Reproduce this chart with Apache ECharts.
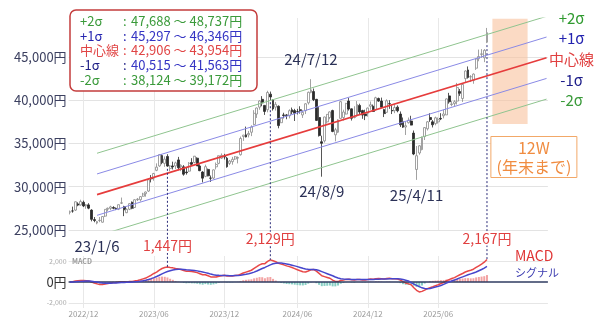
<!DOCTYPE html>
<html>
<head>
<meta charset="utf-8">
<script src="https://cdn.jsdelivr.net/npm/echarts@6/dist/echarts.min.js"></script>
<style>html,body{margin:0;padding:0;background:#fff}#c{width:600px;height:325px}</style>
</head>
<body>
<div id="c"></div>
<script>
// ---------------- DATA ----------------
const startWeek = '2022-10-28';   // Friday of first weekly candle
const futureWeeks = 22;           // empty weeks on the right of the axis
// weekly candles [open, close, low, high]
const candles = [
[27050,27105,26800,27250],[27200,27199,27000,27700],[27300,28263,27200,28300],[28000,27899,27750,28200],[27900,28283,27800,28500],
[28200,27777,27650,28400],[27800,27901,27450,28000],[27900,27527,27400,28100],[27300,26235,26000,27400],[26200,26094,25900,26500],
[25800,25973,25660,26050],[26100,26119,25900,26500],[25900,26553,25850,26600],[26600,27382,26500,27400],[27400,27509,27150,27600],
[27500,27670,27300,27800],[27600,27513,27400,27750],[27500,27453,27300,27600],[27400,27927,27300,27950],[28100,28143,28000,28750],
[27700,27333,26600,27800],[27000,27385,26950,27500],[27400,28041,27300,28100],[28200,27518,27400,28300],[27600,28493,27550,28550],
[28500,28564,28350,28700],[28500,28856,28300,28900],[28900,29157,28850,29300],[29200,29388,28850,29450],[29500,30808,29400,30900],
[31000,30916,30500,31350],[31000,31524,30700,31600],[31900,32265,31800,32700],[32400,33706,32300,33770],[33600,32782,32600,33750],
[32700,33189,32300,33500],[33500,32388,32300,33760],[32100,32391,31800,32500],[32400,32304,32000,32900],[32400,32759,32050,32900],
[33100,32193,31900,33450],[32300,32473,31800,32600],[32300,31450,31275,32500],[31700,31624,31400,32200],[31800,32710,31700,32850],
[32800,32606,32400,33300],[32800,33533,32700,33550],[33300,32402,32400,33400],[32400,31857,31800,32600],[31700,30994,30500,31800],
[31200,32315,31100,32550],[32000,31259,31200,32100],[31000,30991,30550,31300],[31000,31950,30900,32000],[32300,32568,32000,32800],
[32700,33585,32600,33600],[33300,33625,33200,33850],[33500,33431,33150,33800],[33300,32307,32200,33450],[32700,32970,32500,33100],
[32900,33169,32550,33450],[33200,33464,33100,33550],[33300,33377,32700,33500],[33700,35577,33600,35800],[35800,35963,35300,36000],
[36000,35751,35700,36950],[36000,36158,35700,36450],[36300,36897,35850,37100],[37200,38487,37100,38850],[38400,39098,37950,39150],
[39200,39910,38900,39990],[40100,39688,39300,40470],[39400,38707,38300,39450],[38900,40888,38600,41090],[40700,40369,40000,41000],
[40000,38992,38800,40100],[39200,39523,38800,39800],[39300,37068,36750,39400],[37400,37934,37350,38000],[38300,38236,37900,38550],
[38300,38229,37800,38400],[38200,38787,37900,38950],[38900,38646,38400,39150],[38800,38487,37600,39000],[38700,38683,38350,39000],
[38900,38814,38450,39300],[38300,38596,37950,38850],[38800,39583,38400,39650],[39700,40912,39500,41000],[40900,41190,40800,42430],
[41000,40063,39900,41350],[40100,37667,37600,40150],[38000,35909,35800,39200],[35200,35025,31160,35900],[35300,38062,35100,38100],
[37500,38364,37300,38400],[38000,38647,37800,38700],[38800,36391,36300,38900],[36000,36581,35250,36800],[36300,37723,36200,37800],
[37900,39829,37850,39900],[38000,38635,37650,38900],[38400,39605,38350,39700],[39900,38981,38800,40250],[39000,37913,37650,39050],
[38000,38053,37900,39300],[38300,39500,38100,39900],[39400,38642,38350,39600],[38800,38283,37850,38900],[38400,38208,37700,38900],
[38500,39091,38100,39150],[39300,39470,38900,39850],[39300,38701,38650,39500],[38900,40281,38800,40400],[40200,39894,39800,40300],
[39900,39190,39150,40300],[38900,38451,38050,39000],[38600,39931,38550,40100],[39600,39572,39000,40000],[38800,38787,38400,39400],
[38800,39149,38500,39500],[39200,38776,38600,39400],[38400,37155,36900,38700],[37500,36887,36800,38000],[36900,37053,35980,37500],
[37400,37677,37300,38000],[37600,37120,37100,38200],[36200,33780,33650,36500],[32000,33586,30790,34700],[33900,34730,33700,34800],
[34300,35705,34200,35800],[35800,36831,35400,36900],[36700,37503,36500,37600],[38000,37753,37500,38500],[37500,37160,36850,37700],
[37300,37965,37100,38100],[37500,37742,37300,38000],[37900,37834,37700,38500],[38200,38403,37900,38900],[38300,40150,38300,40200],
[40500,39811,39600,40850],[39500,39570,39300,39900],[39600,39819,39300,40000],[39900,41456,39500,42000],[41000,40800,40500,41300],
[40200,41820,39800,41900],[42500,43378,42100,43450],[43500,42633,42500,43900],[42700,42718,42100,42900],[42300,43018,41900,43100],
[43700,44768,43500,44800],[44800,45045,44500,45850],[45300,45354,44900,45900],[44900,45769,44400,45900],[46700,47800,46600,48350]
];
// weekly MACD line
const macd = [
0,30,90,120,150,140,130,90,0,-90,
-180,-230,-250,-200,-140,-90,-60,-40,-10,30,
20,10,50,40,110,150,220,300,380,520,
650,820,950,1150,1300,1400,1447,1400,1360,1300,
1250,1200,1110,1040,1040,1000,960,900,800,700,
700,600,490,470,490,560,610,640,580,570,
580,620,640,740,860,950,1040,1130,1300,1470,
1650,1760,1760,1980,2129,2050,1950,1800,1720,1650,
1550,1480,1390,1290,1180,1080,990,960,1060,1180,
1200,1050,830,600,520,440,360,180,60,40,
150,180,250,260,210,180,240,230,200,190,
230,280,260,320,340,320,280,330,350,320,
320,290,180,30,-100,-180,-260,-550,-800,-960,
-900,-780,-640,-540,-450,-350,-260,-150,-50,120,
230,330,420,560,700,820,960,1060,1130,1230,
1400,1560,1720,1900,2167
];
// weekly signal line
const signal = [
0,5,20,40,60,75,85,85,70,35,
-10,-55,-95,-115,-120,-115,-105,-90,-75,-55,
-40,-30,-15,-5,15,40,75,120,170,240,
320,420,530,650,780,900,1010,1090,1150,1200,
1220,1220,1200,1170,1150,1130,1100,1070,1020,960,
900,840,760,700,660,640,630,630,620,610,
610,615,620,640,690,740,800,870,950,1060,
1180,1300,1400,1520,1650,1750,1810,1830,1820,1790,
1740,1690,1620,1550,1480,1400,1320,1250,1220,1210,
1200,1170,1100,1000,900,800,700,600,480,380,
320,280,270,260,250,240,240,240,235,230,
230,240,245,260,275,285,290,300,310,315,
315,310,290,240,170,100,-60,-200,-330,-450,
-560,-630,-640,-620,-560,-490,-420,-330,-230,-110,
0,100,190,290,400,490,590,690,780,870,
960,1080,1200,1340,1500
];
// regression channel (value at first week and at right end of axis)
const bandNames = ['+2σ','+1σ','中心線','-1σ','-2σ'];
const bandStartWeek = 10;
const bandStart = [33870,31479,29088,26697,24306];
const bandEnd   = [49690,47299,44908,42517,40126];
// range table (now ~ year end)
const rangeRows = [
  ['+2σ',  47688, 48737],
  ['+1σ',  45297, 46346],
  ['中心線', 42906, 43954],
  ['-1σ',  40515, 41563],
  ['-2σ',  38124, 39172]
];
const tickMonths = ['2022/12','2023/06','2023/12','2024/06','2024/12','2025/06'];
const dateNotes = [
  {i:10,  text:'23/1/6',  at:'low'},
  {i:89,  text:'24/7/12', at:'high'},
  {i:93,  text:'24/8/9',  at:'low'},
  {i:128, text:'25/4/11', at:'low'}
];
const macdNotes = [36, 74, 154];
const forecastWeeks = [156, 169];       // highlighted period (12W to year end)
const forecastRange = [49400, 37250];
const forecastText = ['12W', '(年末まで)'];

// ---------------- STYLE / BUILD ----------------
const FONT = "'Noto Sans CJK JP','Noto Sans',sans-serif";
const fmt = v => String(Math.abs(v)).replace(/\B(?=(\d{3})+(?!\d))/g, ',');
const fmtS = v => (v < 0 ? '-' : '') + fmt(v);

const total = candles.length + futureWeeks;
const lastIdx = total - 1;
const weeks = [];
const d0 = new Date(startWeek + 'T00:00:00Z');
for (let k = 0; k < total; k++) {
  const d = new Date(d0.getTime() + k * 7 * 86400000);
  weeks.push(d.getUTCFullYear() + '/' + String(d.getUTCMonth() + 1).padStart(2, '0') + '/' + String(d.getUTCDate()).padStart(2, '0'));
}
const tickIdx = new Set();
tickMonths.forEach(m => { const k = weeks.findIndex(w => w.slice(0, 7) === m); if (k >= 0 && k < candles.length) tickIdx.add(k); });
const isTick = (idx) => tickIdx.has(idx);

const hist = macd.map((v, i) => v - signal[i]);

const bandLineColors = ['#8fc48f', '#8a8ae6', '#e63c3c', '#8a8ae6', '#8fc48f'];
const bandLabelColors = ['#2f9a2f', '#2323b0', '#e04040', '#1d1d8a', '#3a9a3a'];
const rowLabelColors = ['#3a9a3a', '#2525b0', '#e04545', '#1d1d85', '#3a9a3a'];
const rowValueColors = ['#3a9a3a', '#3535c4', '#e04545', '#3535c4', '#3a9a3a'];

const zeroGridColors = [];
for (let v = -2500; v <= 2500; v += 500) zeroGridColors.push(Math.abs(v) === 2000 ? '#e6e6e6' : 'rgba(0,0,0,0)');

const chart = echarts.init(document.getElementById('c'), null, {renderer: 'canvas'});
const option = {
  animation: false,
  backgroundColor: '#fff',
  textStyle: {fontFamily: FONT},
  grid: [
    {left: 68.6, right: 52.1, top: 18, bottom: 95, outerBoundsMode: 'none'},
    {left: 68.6, right: 52.1, top: 256, bottom: 17, outerBoundsMode: 'none'}
  ],
  xAxis: [
    {type: 'category', gridIndex: 0, data: weeks, boundaryGap: true,
     axisLine: {show: false}, axisTick: {show: false}, axisLabel: {show: false},
     splitLine: {show: true, interval: isTick, alignWithLabel: true, lineStyle: {color: '#e8e8e8', width: 1}}},
    {type: 'category', gridIndex: 1, data: weeks, boundaryGap: true,
     axisLine: {show: false}, axisTick: {show: false},
     axisLabel: {show: true, interval: isTick, formatter: v => v.slice(0, 7), fontSize: 8, color: '#9a9a9a', margin: 2},
     splitLine: {show: true, interval: isTick, alignWithLabel: true, lineStyle: {color: '#e8e8e8', width: 1}}}
  ],
  yAxis: [
    {type: 'value', gridIndex: 0, min: 25000, max: 49500, interval: 5000,
     axisLine: {show: false}, axisTick: {show: false},
     axisLabel: {formatter: v => fmt(v) + '円', fontSize: 13, color: '#3c4060', margin: 2, showMaxLabel: false},
     splitLine: {show: true, showMaxLine: false, lineStyle: {color: '#e3e3e3', width: 1}}},
    {type: 'value', gridIndex: 1, min: -2500, max: 2500, interval: 500,
     axisLine: {show: false}, axisTick: {show: false},
     axisLabel: {margin: 2, showMinLabel: true, showMaxLabel: true,
       formatter: v => v === 0 ? '{z|0円}' : (Math.abs(v) === 2000 ? '{s|' + fmtS(v) + '}' : ''),
       rich: {z: {fontSize: 13, color: '#333', fontFamily: FONT}, s: {fontSize: 7, color: '#aaaaaa', fontFamily: FONT}}},
     splitLine: {show: true, lineStyle: {color: zeroGridColors, width: 1}}}
  ],
  series: [
    {type: 'candlestick', xAxisIndex: 0, yAxisIndex: 0, data: candles, barWidth: 2.4, z: 2,
     itemStyle: {color: '#ffffff', color0: '#2b2b2b', borderColor: '#8a8a8a', borderColor0: '#2b2b2b', borderWidth: 0.8},
     markArea: {silent: true, itemStyle: {color: 'rgba(249,196,160,0.62)'},
       data: [[{xAxis: weeks[forecastWeeks[0]], yAxis: forecastRange[0]}, {xAxis: weeks[forecastWeeks[1]], yAxis: forecastRange[1]}]]}}
  ].concat(bandNames.map((n, k) => ({
    type: 'line', name: n, xAxisIndex: 0, yAxisIndex: 0, silent: true, symbol: 'none', z: 3,
    data: [[weeks[bandStartWeek], bandStart[k]], [weeks[lastIdx], bandEnd[k]]],
    lineStyle: {color: bandLineColors[k], width: k === 2 ? 1.6 : 1}
  }))).concat([
    {type: 'bar', xAxisIndex: 1, yAxisIndex: 1, barWidth: 2, silent: true,
     data: hist.map(v => ({value: v, itemStyle: {color: v >= 0 ? '#f3a3a3' : '#86cfc5'}})),
     markLine: {silent: true, symbol: ['none', 'none'], label: {show: false},
       lineStyle: {color: '#2f3b60', width: 1.5, type: 'solid'}, data: [{yAxis: 0}]}},
    {type: 'line', xAxisIndex: 1, yAxisIndex: 1, data: macd, symbol: 'none', z: 4,
     lineStyle: {color: '#e84848', width: 1.5}},
    {type: 'line', xAxisIndex: 1, yAxisIndex: 1, data: signal, symbol: 'none', z: 5,
     lineStyle: {color: '#4646cc', width: 1.5}}
  ])
};
chart.setOption(option);

// ---------------- ANNOTATIONS (positions from the axes) ----------------
const px = (g, i, v) => chart.convertToPixel({gridIndex: g}, [weeks[i], v]);
const els = [];
const txt = (x, y, text, size, color, align, extra) => Object.assign({
  type: 'text', x: x, y: y, z: 100,
  style: Object.assign({text: text, fontSize: size, fill: color, fontFamily: FONT, align: align || 'center', verticalAlign: 'middle'}, extra || {})
});

// range table box
els.push({type: 'rect', z: 99, shape: {x: 70, y: 10, width: 187, height: 81, r: 6},
  style: {fill: '#fff', stroke: '#c43c3c', lineWidth: 1.5}});
rangeRows.forEach((r, k) => {
  const y = 20.7 + k * 14.9;
  els.push(txt(80, y, r[0], 13, rowLabelColors[k], 'left'));
  els.push(txt(123, y, ':', 13, rowLabelColors[k], 'left'));
  els.push(txt(131, y, fmt(r[1]) + ' ～ ' + fmt(r[2]) + '円', 13, rowValueColors[k], 'left'));
});

// channel labels at the right end
bandNames.forEach((n, k) => {
  const p = px(0, lastIdx, bandEnd[k]);
  els.push(txt(p[0] + 25, p[1] + 1.5, n, 15, bandLabelColors[k], 'center'));
});

// date notes
const noteGap = {'23/1/6': 22, '24/7/12': -20, '24/8/9': 15, '25/4/11': 15};
dateNotes.forEach(n => {
  const v = n.at === 'high' ? candles[n.i][3] : candles[n.i][2];
  const p = px(0, n.i, v);
  els.push(txt(p[0], p[1] + noteGap[n.text], n.text, 15, '#2b3157', 'center'));
});

// MACD peaks: dotted connector + value
macdNotes.forEach(i => {
  const pm = px(1, i, macd[i]);
  const pc = px(0, i, candles[i][2]);
  els.push({type: 'line', z: 90, shape: {x1: pm[0], y1: pc[1] + 2, x2: pm[0], y2: pm[1]},
    style: {stroke: '#2d2d7a', lineWidth: 1, lineDash: [2, 2]}});
  els.push(txt(pm[0], pm[1] - 21, fmt(macd[i]) + '円', 14, '#e04040', 'center',
    {backgroundColor: '#fff', padding: [0, 1]}));
});

// MACD / signal names
const last = candles.length - 1;
const pe = px(1, last, macd[last]);
const ps = px(1, last, signal[last]);
els.push(txt(pe[0] + 28, pe[1] - 3.5, 'MACD', 14, '#e03535', 'left'));
els.push(txt(ps[0] + 28, ps[1] + 6, 'シグナル', 11, '#3b3bb0', 'left'));
const pt = px(1, 0, 2000);
els.push(txt(pt[0] + 2, pt[1], 'MACD', 7, '#9a9a9a', 'left', {fontWeight: 'bold'}));

// 12W box
const pf = px(0, forecastWeeks[0], forecastRange[1]);
const bx = pf[0] - 1.5, by = pf[1] + 12.5;
els.push({type: 'rect', z: 99, shape: {x: bx, y: by, width: 86, height: 41},
  style: {fill: '#fff', stroke: '#f2a868', lineWidth: 1}});
els.push(txt(bx + 43, by + 11.5, forecastText[0], 16, '#f08c40', 'center'));
els.push(txt(bx + 43, by + 30.5, forecastText[1], 16, '#f08c40', 'center'));

chart.setOption({graphic: els});
</script>
</body>
</html>
